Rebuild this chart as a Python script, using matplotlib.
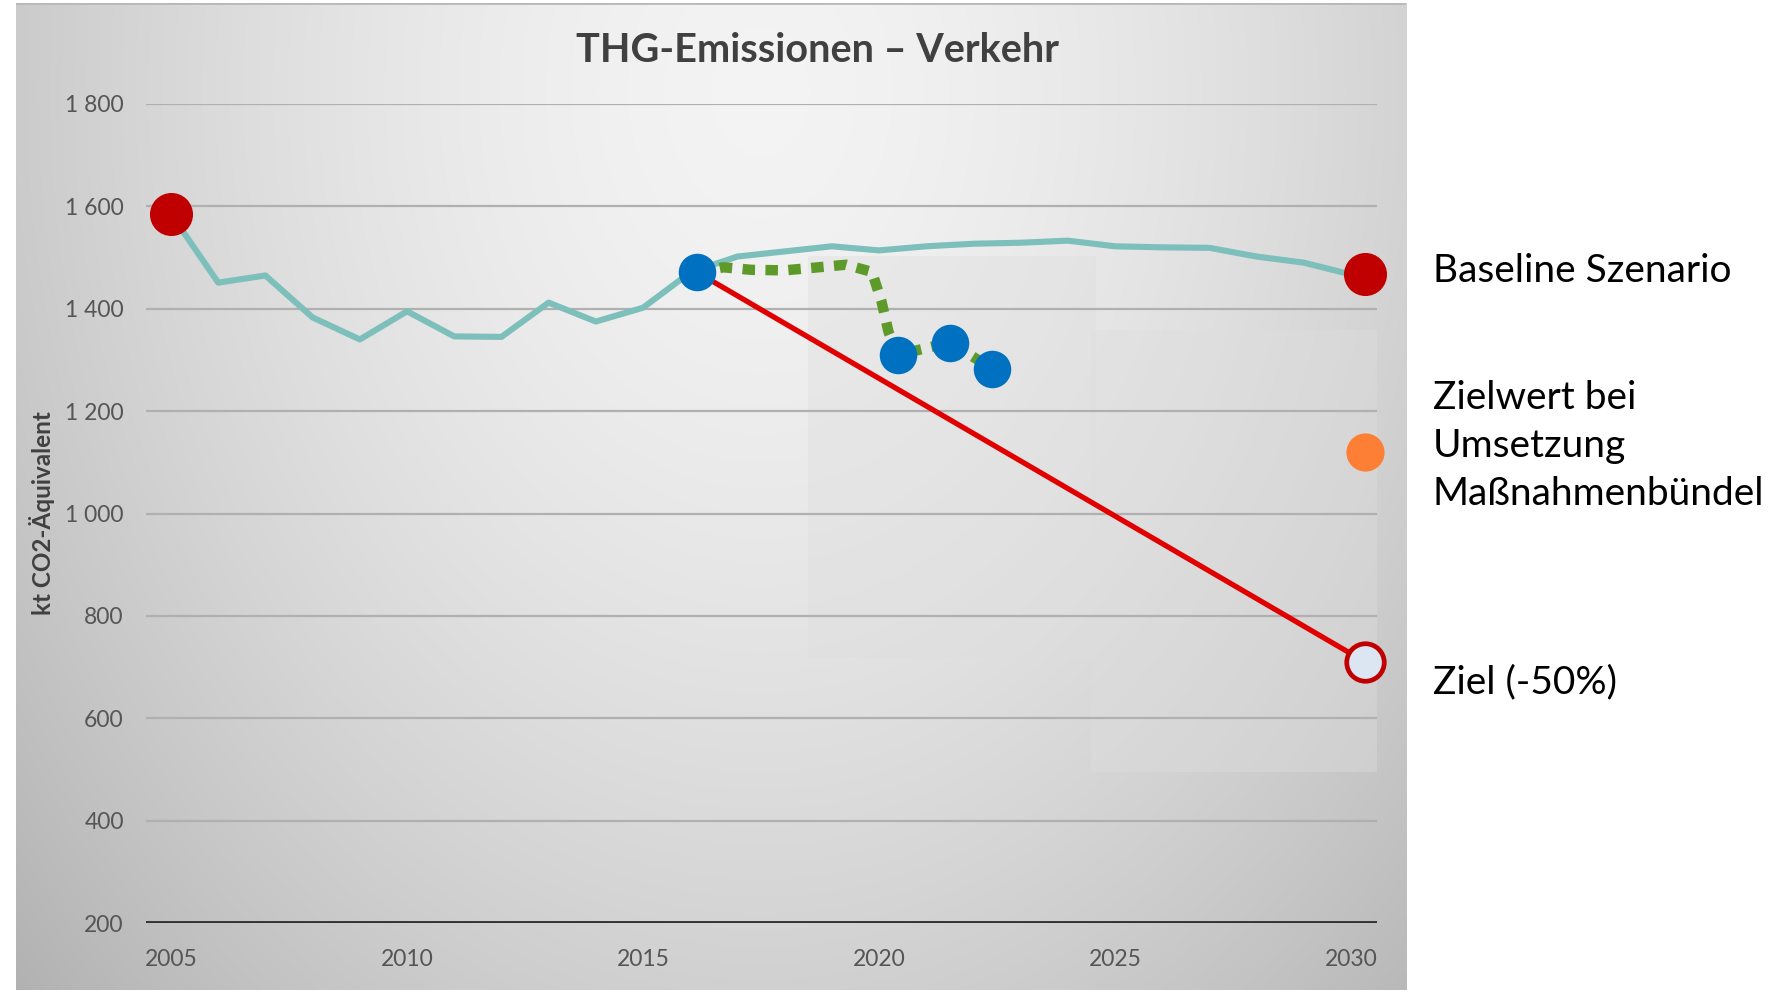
import numpy as np
import matplotlib
matplotlib.use("Agg")
import matplotlib.pyplot as plt
from matplotlib.patches import Rectangle
from matplotlib.ticker import FixedLocator, FuncFormatter

plt.rcParams["font.family"] = ["Lato", "DejaVu Sans"]

# ---- data -------------------------------------------------------------
years = list(range(2005, 2031))
baseline = [1585, 1451, 1465, 1383, 1340, 1395, 1346, 1345, 1412, 1375,
            1402, 1471, 1502, 1512, 1522, 1514, 1522, 1527, 1529, 1533,
            1522, 1520, 1519, 1502, 1490, 1467]

actual_x = [2016.15, 2020.4, 2021.5, 2022.4]
actual_y = [1471, 1310, 1334, 1283]

trend_x = [2016.15, 2016.7, 2017.3, 2018.0, 2018.6, 2019.3, 2019.85,
           2020.05, 2020.2, 2020.4, 2021.5, 2022.4]
trend_y = [1471, 1481, 1476, 1475, 1480, 1486, 1472, 1415, 1355, 1310,
           1334, 1283]

end_marker_x = 2030.3          # 2030 markers sit just right of the tick
target_x = [2016.15, end_marker_x]
target_y = [1471, 710]

measures_y = 1120

y_ticks = [200, 400, 600, 800, 1000, 1200, 1400, 1600, 1800]
x_ticks = [2005, 2010, 2015, 2020, 2025, 2030]

title = "THG-Emissionen – Verkehr"
y_label = "kt CO2-Äquivalent"
lbl_baseline = "Baseline Szenario"
lbl_measures = "Zielwert bei\nUmsetzung\nMaßnahmenbündel"
lbl_target = "Ziel (-50%)"

# ---- figure -----------------------------------------------------------
W, H, DPI = 1787, 991, 100
fig = plt.figure(figsize=(W / DPI, H / DPI), dpi=DPI, facecolor="white")


def fx(px):
    return px / W


def fy(py):
    return 1 - py / H


# gradient panel behind the chart
pl, pt, pr, pb = 16, 3, 1406, 990
bg = fig.add_axes([fx(pl), fy(pb), fx(pr - pl), fy(pt) - fy(pb)], zorder=0)
gx = np.linspace(pl, pr, 400)
gy = np.linspace(pt, pb, 300)
GX, GY = np.meshgrid(gx, gy)
d = np.sqrt(((GX - 760) / 720) ** 2 + ((GY - 90) / 950) ** 2)
shade = np.clip(0.955 - 0.15 * d ** 1.6, 0, 1)
bg.imshow(np.dstack([shade] * 3), aspect="auto", extent=[0, 1, 0, 1],
          interpolation="bilinear")
bg.plot([0, 1], [1, 1], color="#b8b8b8", lw=2, transform=bg.transAxes)
bg.set_axis_off()

# plot area
al, at, ar, ab = 146, 104, 1377, 923
ax = fig.add_axes([fx(al), fy(ab), fx(ar - al), fy(at) - fy(ab)], zorder=1)
ax.patch.set_alpha(0)
ax.set_xlim(2004.47, 2030.55)
ax.set_ylim(200, 1800)
for s in ax.spines.values():
    s.set_visible(False)

# lighter patches in the projection region
ax.add_patch(Rectangle((2018.5, 718), 6.1, 786, facecolor="#dedede",
                       alpha=0.4, edgecolor="none", zorder=0.5))
ax.add_patch(Rectangle((2024.5, 495), 6.05, 864, facecolor="#dedede",
                       alpha=0.4, edgecolor="none", zorder=0.5))

for v in y_ticks[1:]:
    ax.axhline(v, color="#b0b0b0", lw=1.6, zorder=1)
ax.axhline(200, color="#333333", lw=2.8, zorder=1)

ax.yaxis.set_major_locator(FixedLocator(y_ticks))
ax.xaxis.set_major_locator(FixedLocator(x_ticks))
ax.yaxis.set_major_formatter(FuncFormatter(lambda v, p: f"{int(v):,}".replace(",", " ")))
ax.tick_params(axis="both", length=0, labelsize=16.5, labelcolor="#555555")
ax.tick_params(axis="y", pad=16)
ax.tick_params(axis="x", pad=19)

fig.text(fx(42), fy(513), y_label, rotation=90, ha="center", va="center",
         fontsize=17.5, fontweight="bold", color="#404040")

# baseline series
ax.plot(years, baseline, color="#7dbfba", lw=4.4, zorder=3)
ax.plot([years[0], end_marker_x], [baseline[0], baseline[-1]], ls="none",
        marker="o", ms=31, mfc="#c00000", mec="none", zorder=6, clip_on=False)

# target path
ax.plot(target_x, target_y, color="#e00000", lw=3.8, zorder=4)
ax.plot([target_x[-1]], [target_y[-1]], ls="none", marker="o", ms=27,
        mfc="#dce6f2", mec="#c00000", mew=3.4, zorder=6, clip_on=False)

# measured trend
ax.plot(trend_x, trend_y, color="#5e9a2a", lw=7.5, dashes=(1.2, 1.0),
        dash_capstyle="butt", zorder=4)
ax.plot(actual_x, actual_y, ls="none", marker="o", ms=27, mfc="#0070c0",
        mec="none", zorder=5)

ax.plot([end_marker_x], [measures_y], ls="none", marker="o", ms=27.5,
        mfc="#fd7f36", mec="none", zorder=6, clip_on=False)

# title and side labels
fig.text(fx(817), fy(50), title, ha="center", va="center", fontsize=28.5,
         fontweight="bold", color="#404040")
tx = fx(1433)
fs = 28
fig.text(tx, fy(271), lbl_baseline, ha="left", va="center", fontsize=fs,
         color="black")
fig.text(tx, fy(446), lbl_measures, ha="left", va="center", fontsize=fs,
         color="black", linespacing=1.4)
fig.text(tx, fy(682), lbl_target, ha="left", va="center", fontsize=fs,
         color="black")

fig.savefig("out.png", dpi=DPI, facecolor="white")
